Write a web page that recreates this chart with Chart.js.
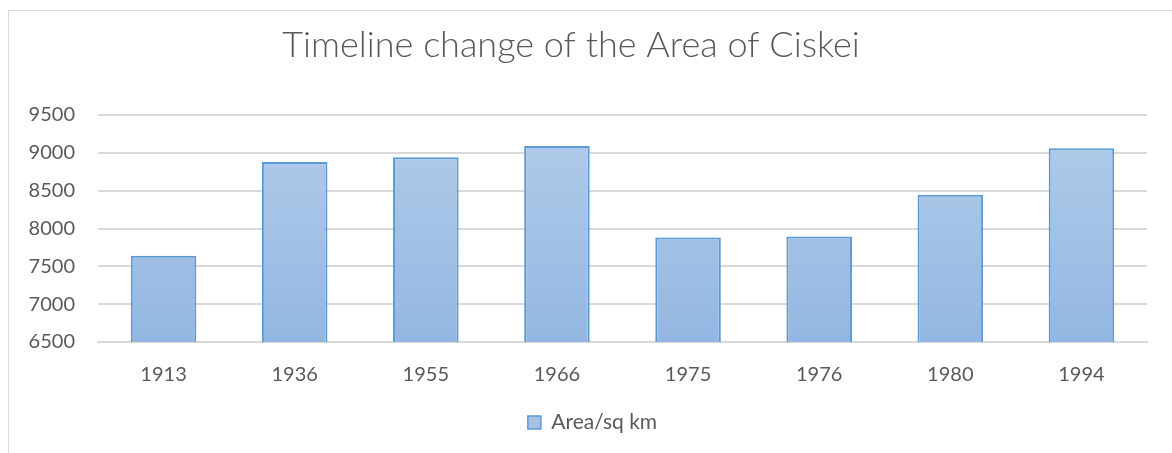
<!DOCTYPE html>
<html>
<head>
<meta charset="utf-8">
<script src="https://cdn.jsdelivr.net/npm/chart.js@4.4.1/dist/chart.umd.min.js"></script>
<style>
  html, body { margin: 0; padding: 0; background: #fff; overflow: hidden; }
  #frame { position: absolute; left: 8px; top: 10px; width: 1200px; height: 500px;
           border: 1px solid #d9d9d9; box-sizing: border-box; }
  #wrap { position: absolute; left: 0; top: 0; width: 1172px; height: 453px; }
</style>
</head>
<body>
<div id="frame"></div>
<div id="wrap"><canvas id="chart"></canvas></div>
<script>
// chart data
const years = ["1913", "1936", "1955", "1966", "1975", "1976", "1980", "1994"];
const areas = [7640, 8880, 8940, 9090, 7880, 7895, 8445, 9060];
const yTicks = [6500, 7000, 7500, 8000, 8500, 9000, 9500];
const chartTitle = "Timeline change of the Area of Ciskei";

const textGray = "#595959";
const gridGray = "#d9d9d9";
const edgeBlue = "#5b9bd5";

function barFill(ctx) {
  const area = ctx.chart.chartArea;
  if (!area) return "#a5c2e6";
  const g = ctx.chart.ctx.createLinearGradient(0, area.top, 0, area.bottom);
  g.addColorStop(0, "#b3cce9");
  g.addColorStop(1, "#93b7e2");
  return g;
}

// title sits a bit left of centre and the legend a bit right, like the original
const placementPlugin = {
  id: "placement",
  afterLayout(chart) {
    const lg = chart.legend;
    if (lg) { lg.left += 9; lg.right += 9; }
  },
  afterDraw(chart) {
    const c = chart.ctx;
    c.save();
    c.fillStyle = textGray;
    c.font = "300 36px Lato";
    c.textAlign = "center";
    c.textBaseline = "alphabetic";
    c.fillText(chartTitle, 571, 57);
    c.restore();
  }
};

new Chart(document.getElementById("chart"), {
  type: "bar",
  data: {
    labels: years,
    datasets: [{
      label: "Area/sq km",
      data: areas,
      backgroundColor: barFill,
      borderColor: edgeBlue,
      borderWidth: 2,
      barPercentage: 0.5,
      categoryPercentage: 1.0
    }]
  },
  plugins: [placementPlugin],
  options: {
    responsive: true,
    maintainAspectRatio: false,
    animation: false,
    layout: { padding: { left: 20, right: 25, top: 115, bottom: 10 } },
    plugins: {
      title: { display: false },
      legend: {
        position: "bottom",
        labels: {
          color: textGray,
          font: { family: "Lato", size: 21 },
          boxWidth: 13,
          boxHeight: 13,
          padding: 12,
          generateLabels(chart) {
            return [{
              text: "Area/sq km",
              fillStyle: "#a5c2e6",
              strokeStyle: edgeBlue,
              lineWidth: 1.5,
              fontColor: textGray,
              datasetIndex: 0
            }];
          }
        }
      },
      tooltip: { enabled: false }
    },
    scales: {
      x: {
        grid: { display: false },
        border: { color: gridGray, width: 2 },
        ticks: { color: textGray, font: { family: "Lato", size: 20 }, padding: 13 }
      },
      y: {
        min: 6500,
        max: 9500,
        afterBuildTicks(axis) { axis.ticks = yTicks.map(v => ({ value: v })); },
        afterFit(axis) { axis.width = 78; },
        grid: { color: gridGray, lineWidth: 2, drawTicks: false },
        border: { display: false },
        ticks: {
          color: textGray,
          font: { family: "Lato", size: 20 },
          padding: 23,
          callback: v => String(v)
        }
      }
    }
  }
});
</script>
</body>
</html>
